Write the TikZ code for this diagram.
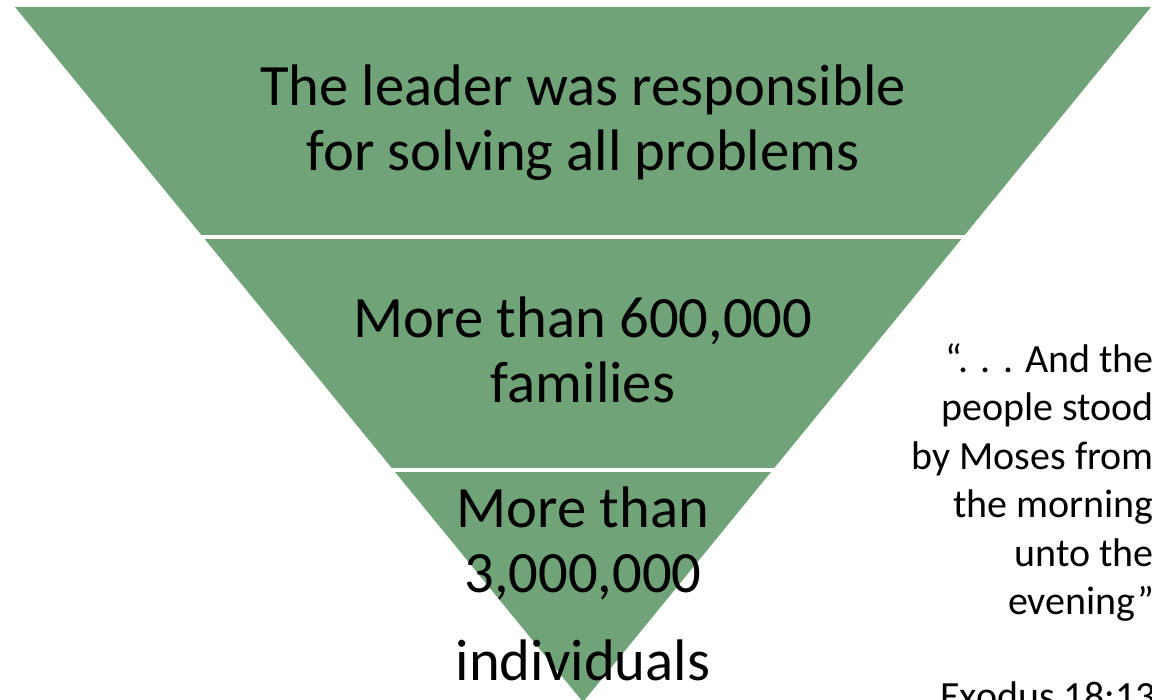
\documentclass[tikz,border=0pt]{standalone}
\usepackage{fontspec}
\setmainfont{Carlito}
\definecolor{band}{RGB}{112,163,120}
\begin{document}
\begin{tikzpicture}[x=1pt,y=-1pt,
  big/.style={inner sep=0pt, anchor=base, font=\fontsize{58.6}{65}\selectfont},
  quote/.style={inner sep=0pt, anchor=base east, font=\fontsize{40}{48}\selectfont},
  sep/.style={white, line width=3.5pt}]
\useasboundingbox (0,0) rectangle (1152,700);
\fill[white] (0,0) rectangle (1152,700);
% triangle
\coordinate (tl) at (15,7);
\coordinate (tr) at (1151,7);
\coordinate (ap) at (583,702);
\fill[band] (tl) -- (tr) -- (ap) -- cycle;
% separators
\coordinate (s1l) at (195,237);
\coordinate (s1r) at (971,237);
\coordinate (s2l) at (385,470);
\coordinate (s2r) at (781,470);
\draw[sep] (s1l) -- (s1r);
\draw[sep] (s2l) -- (s2r);
% texts
\node[big] (t1a) at (583,106) {The leader was responsible};
\node[big] (t1b) at (583,171) {for solving all problems};
\node[big] (t2a) at (583,338) {More than 600,000};
\node[big] (t2b) at (583,403) {families};
\node[big] (t3a) at (583,527) {More than};
\node[big] (t3b) at (583,592) {3,000,000};
\node[big] (t3c) at (583,680) {individuals};
\node[quote] (q1) at (1154,373) {“. . . And the};
\node[quote] (q2) at (1154,421) {people stood};
\node[quote] (q3) at (1154,470) {by Moses from};
\node[quote] (q4) at (1154,518) {the morning};
\node[quote] (q5) at (1154,566) {unto the};
\node[quote] (q6) at (1154,614) {evening”};
\node[quote] (q7) at (1156,709) {Exodus 18:13};
\end{tikzpicture}
\end{document}
